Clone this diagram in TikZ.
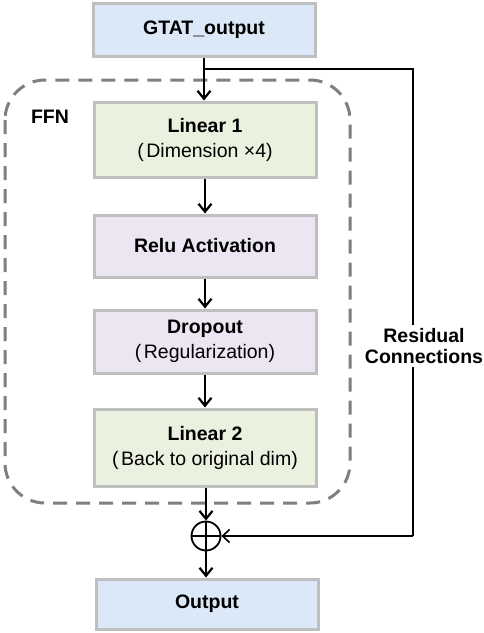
\documentclass[tikz,border=0pt]{standalone}
\usepackage{fontspec}
\setmainfont{Liberation Sans}
\usetikzlibrary{arrows.meta}
\definecolor{bfill}{HTML}{DAE8F7}
\definecolor{gfill}{HTML}{EBF1DF}
\definecolor{pfill}{HTML}{EBE6F2}
\definecolor{bordergray}{HTML}{BFBFBF}
\definecolor{dashgray}{HTML}{7F7F7F}
\newcommand{\lp}{(\kern2.5pt}
\tikzset{
  blk/.style={draw=bordergray, line width=3pt, minimum width=222pt, inner sep=0pt, align=center,
    font=\fontsize{19.5}{25}\selectfont},
  bluebox/.style={blk, fill=bfill},
  greenbox/.style={blk, fill=gfill},
  purplebox/.style={blk, fill=pfill},
  arr/.style={line width=2.8pt, -{Straight Barb[length=8pt,width=13pt,line width=2.2pt]}},
  resline/.style={line width=1.8pt},
  lbl/.style={font=\fontsize{19.5}{20.5}\selectfont\bfseries, align=center},
}
\begin{document}
\begin{tikzpicture}[x=1pt,y=-1pt]
\useasboundingbox (0,0) rectangle (484,633);
\fill[white] (0,0) rectangle (484,633);
% dashed FFN frame
\draw[dashgray, line width=3pt, dash pattern=on 14pt off 9pt, rounded corners=40pt] (5,80) rectangle (350,503);
\node[lbl] (ffn) at (50,117) {FFN};
% boxes
\node[bluebox, minimum height=53pt] (gtat) at (204,29.5) {\textbf{GTAT\_output}};
\node[greenbox, minimum height=75pt] (lin1) at (205,139.5) {\textbf{Linear 1}\\\lp Dimension ×4)};
\node[purplebox, minimum height=62pt] (relu) at (205,246) {\textbf{Relu Activation}};
\node[purplebox, minimum height=63pt] (drop) at (205,341.5) {\textbf{Dropout}\\\lp Regularization)};
\node[greenbox, minimum height=77pt] (lin2) at (205,447.5) {\textbf{Linear 2}\\\lp Back to original dim)};
\node[bluebox, minimum height=50pt] (out) at (207,604) {\textbf{Output}};
% adder
\node[circle, draw=black, line width=1.8pt, minimum size=29pt, inner sep=0pt,
  path picture={\draw[line width=1.8pt] (path picture bounding box.north) -- (path picture bounding box.south)
     (path picture bounding box.west) -- (path picture bounding box.east);}] (add) at (206,536) {};
% residual path
\coordinate (split) at (gtat.south |- 0,69);
\coordinate (rtop) at (413,69);
\coordinate (rbot) at (413,536);
\draw[resline] (split) -- (rtop) -- (rbot);
\draw[resline, -{Straight Barb[length=7pt,width=13pt,line width=1.6pt]}] (rbot) -- (add.east);
\node[lbl, fill=white, inner sep=4pt] (res) at (424,346) {Residual\\Connections};
% main arrows
\draw[arr] (gtat.south) -- (gtat.south |- lin1.north);
\draw[arr] (lin1.south) -- (relu.north);
\draw[arr] (relu.south) -- (drop.north);
\draw[arr] (drop.south) -- (lin2.north);
\draw[arr] (lin2.south -| add.north) -- (add.north);
\draw[arr] (add.south) -- (add.south |- out.north);
\end{tikzpicture}
\end{document}
